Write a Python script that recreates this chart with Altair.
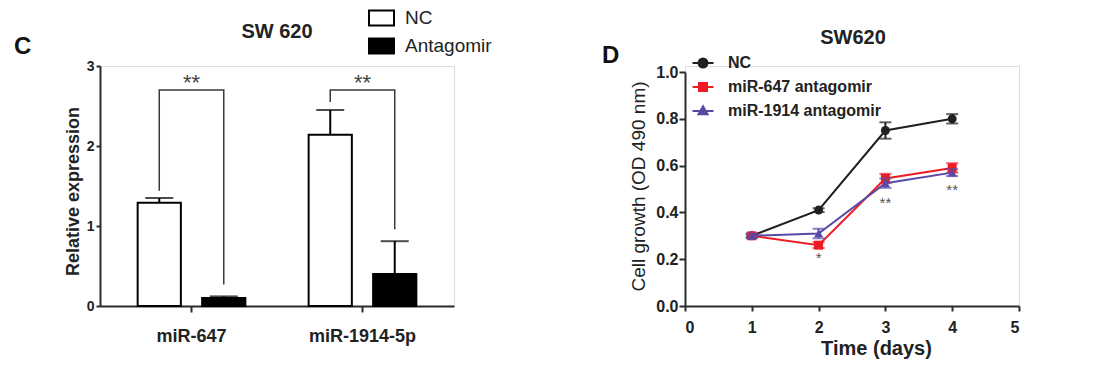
import altair as alt
import pandas as pd

FONT = "Liberation Sans"
AXC = "#2b2b2b"

# ---------------- Panel C data ----------------
categories = ["miR-647", "miR-1914-5p"]
groups = ["NC", "Antagomir"]
nc_expr = [1.29, 2.14]
nc_err = [0.06, 0.31]
ant_expr = [0.10, 0.40]
ant_err = [0.02, 0.41]
bracket_top = [2.70, 2.70]
bracket_left_end = [1.44, 2.55]
bracket_right_end = [0.27, 0.96]
bar_sig_y = [2.79, 2.79]
bar_sig_text = ["**", "**"]
group_fills = ["white", "black"]

# ---------------- Panel D data ----------------
days = [1, 2, 3, 4]
series_names = ["NC", "miR-647 antagomir", "miR-1914 antagomir"]
nc_od = [0.30, 0.41, 0.75, 0.80]
nc_od_err = [0.005, 0.008, 0.035, 0.02]
m647_od = [0.30, 0.26, 0.545, 0.59]
m647_od_err = [0.01, 0.012, 0.02, 0.02]
m1914_od = [0.30, 0.31, 0.525, 0.57]
m1914_od_err = [0.01, 0.02, 0.02, 0.015]
line_sig_days = [2, 3, 4]
line_sig_y = [0.205, 0.44, 0.495]
line_sig_text = ["*", "**", "**"]
series_colors = ["#231f20", "#ed1c24", "#574aa6"]
series_shapes = ["circle", "square", "triangle-up"]
legend_paths = [
    "M-2.1,0H2.1M0.9,0A0.9,0.9,0,1,1,-0.9,0A0.9,0.9,0,1,1,0.9,0Z",
    "M-2.1,0H2.1M-0.8,-0.8H0.8V0.8H-0.8Z",
    "M-2.1,0H2.1M0,-0.95L0.9,0.65H-0.9Z",
]

panel_letters = ["C", "D"]
panel_titles = ["SW 620", "SW620"]

# ---------------- build tables ----------------
bar_rows = []
for i, c in enumerate(categories):
    bar_rows.append({"category": c, "group": groups[0], "value": nc_expr[i], "top": nc_expr[i] + nc_err[i]})
    bar_rows.append({"category": c, "group": groups[1], "value": ant_expr[i], "top": ant_expr[i] + ant_err[i]})
bar_df = pd.DataFrame(bar_rows)

br_rows = []
for i, c in enumerate(categories):
    br_rows += [
        {"category": c, "group": groups[0], "y": bracket_left_end[i], "o": 0},
        {"category": c, "group": groups[0], "y": bracket_top[i], "o": 1},
        {"category": c, "group": groups[1], "y": bracket_top[i], "o": 2},
        {"category": c, "group": groups[1], "y": bracket_right_end[i], "o": 3},
    ]
br_df = pd.DataFrame(br_rows)
sig_df = pd.DataFrame({"category": categories, "y": bar_sig_y, "t": bar_sig_text})

od_rows = []
for name, vals, errs in zip(series_names, [nc_od, m647_od, m1914_od], [nc_od_err, m647_od_err, m1914_od_err]):
    for d, v, e in zip(days, vals, errs):
        od_rows.append({"series": name, "day": d, "od": v, "lo": v - e, "hi": v + e})
od_df = pd.DataFrame(od_rows)
lsig_df = pd.DataFrame({"day": line_sig_days, "y": line_sig_y, "t": line_sig_text})

# ---------------- Panel C ----------------
xC = alt.X(
    "category:N", sort=categories,
    scale=alt.Scale(domain=categories, paddingInner=0.2456, paddingOuter=0.158),
    axis=alt.Axis(title=None, labelAngle=0, tickSize=6, tickWidth=2, tickColor=AXC,
                  domainColor=AXC, domainWidth=2, labelFont=FONT, labelFontSize=18,
                  labelFontWeight="bold", labelColor="#222", labelPadding=15),
)
xoC = alt.XOffset("group:N", sort=groups,
                  scale=alt.Scale(domain=groups, paddingInner=0.33, paddingOuter=0.165))


def yC(field):
    return alt.Y(
        field, scale=alt.Scale(domain=[0, 3], nice=False),
        axis=alt.Axis(values=[0, 1, 2, 3], format="d", grid=False, tickSize=4, tickWidth=2,
                      tickColor=AXC, domainColor=AXC, domainWidth=2, labelFont=FONT,
                      labelFontSize=14, labelFontWeight="bold", labelColor="#222", labelPadding=2,
                      title="Relative expression", titleFont=FONT, titleFontSize=18,
                      titleFontWeight="bold", titleColor="#222", titleX=-27, titleY=125,
                      titleBaseline="middle"),
    )


bars = alt.Chart(bar_df).mark_bar(stroke="black", strokeWidth=2).encode(
    x=xC, xOffset=xoC, y=yC("value:Q"),
    fill=alt.Fill("group:N", scale=alt.Scale(domain=groups, range=group_fills),
                  legend=alt.Legend(title=None, orient="none", legendX=272, legendY=-57.5,
                                    symbolType="M-1.667,-1H1.667V1H-1.667Z", symbolSize=225,
                                    symbolStrokeWidth=2, symbolStrokeColor="black",
                                    labelFont=FONT, labelFontSize=19, labelColor="#222",
                                    labelOffset=14, rowPadding=5, padding=0)),
)
err_rule = alt.Chart(bar_df).mark_rule(color="black", strokeWidth=2).encode(
    x=xC, xOffset=xoC, y=yC("value:Q"), y2="top:Q")
err_cap = alt.Chart(bar_df).mark_tick(color="black", thickness=2, size=28).encode(
    x=xC, xOffset=xoC, y=yC("top:Q"))
brackets = alt.Chart(br_df).mark_line(color="#3a3a3a", strokeWidth=1.5).encode(
    x=xC, xOffset=xoC, y=yC("y:Q"), detail="category:N", order="o:Q")
stars = alt.Chart(sig_df).mark_text(font=FONT, fontSize=22, color="#444", baseline="middle").encode(
    x=xC, y=yC("y:Q"), text="t:N")
letterC = alt.Chart(pd.DataFrame({"t": [panel_letters[0]]})).mark_text(
    font=FONT, fontSize=24, fontWeight="bold", align="left", baseline="alphabetic", color="#111"
).encode(x=alt.value(-86), y=alt.value(-12), text="t:N")
titleC = alt.Chart(pd.DataFrame({"t": [panel_titles[0]]})).mark_text(
    font=FONT, fontSize=20, fontWeight="bold", align="center", baseline="alphabetic", color="#222"
).encode(x=alt.value(177), y=alt.value(-28), text="t:N")

panelC = alt.layer(bars, err_rule, err_cap, brackets, stars, letterC, titleC).properties(
    width=354, height=240)

# ---------------- Panel D ----------------
xD = alt.X("day:Q", scale=alt.Scale(domain=[0, 5], nice=False),
           axis=alt.Axis(values=[0, 1, 2, 3, 4, 5], format="d", grid=False, tickSize=5, tickWidth=2,
                         tickColor=AXC, domainColor=AXC, domainWidth=2, labelFont=FONT,
                         labelFontSize=16, labelFontWeight="bold", labelColor="#222", labelPadding=8,
                         title="Time (days)", titleFont=FONT, titleFontSize=20, titleFontWeight="bold",
                         titleColor="#222", titleX=191, titleY=48, titleBaseline="alphabetic"))


def yD(field):
    return alt.Y(field, scale=alt.Scale(domain=[0, 1], nice=False, range=[240, 6]),
                 axis=alt.Axis(values=[0, 0.2, 0.4, 0.6, 0.8, 1.0], format=".1f", grid=False,
                               tickSize=6, tickWidth=2, tickColor=AXC, domainColor=AXC, domainWidth=2,
                               labelFont=FONT, labelFontSize=16, labelFontWeight="bold",
                               labelColor="#222", labelPadding=1,
                               title="Cell growth (OD 490 nm)", titleFont=FONT, titleFontSize=19,
                               titleFontWeight="normal", titleColor="#222", titleX=-47, titleY=120,
                               titleBaseline="middle"))


baseD = alt.Chart(od_df)
layersD = []
for name, col, shp in zip(series_names, series_colors, series_shapes):
    sub = baseD.transform_filter(alt.datum.series == name)
    layersD.append(sub.mark_line(color=col, strokeWidth=2).encode(x=xD, y=yD("od:Q")))
    layersD.append(sub.mark_rule(color=col, strokeWidth=2).encode(x=xD, y=yD("lo:Q"), y2="hi:Q"))
    layersD.append(sub.mark_tick(color=col, thickness=2, size=12, orient="horizontal").encode(x=xD, y=yD("hi:Q")))
    layersD.append(sub.mark_tick(color=col, thickness=2, size=12, orient="horizontal").encode(x=xD, y=yD("lo:Q")))
    layersD.append(sub.mark_point(shape=shp, filled=True, size=80, color=col, opacity=1).encode(x=xD, y=yD("od:Q")))

legD_kwargs = dict(title=None, orient="none", legendX=10, legendY=-11, symbolSize=100,
                   symbolStrokeWidth=2, symbolFillColor="black", labelFont=FONT, labelFontSize=16,
                   labelFontWeight="bold", labelColor="#222", labelOffset=17, rowPadding=7, padding=0)
legend_layer = baseD.transform_filter("false").mark_point(filled=True, opacity=1).encode(
    x=xD, y=yD("od:Q"),
    fill=alt.Fill("series:N", scale=alt.Scale(domain=series_names, range=series_colors),
                  legend=alt.Legend(**legD_kwargs)),
    stroke=alt.Stroke("series:N", scale=alt.Scale(domain=series_names, range=series_colors),
                      legend=alt.Legend(**legD_kwargs)),
    shape=alt.Shape("series:N", scale=alt.Scale(domain=series_names, range=legend_paths),
                    legend=alt.Legend(**legD_kwargs)),
)
starsD = alt.Chart(lsig_df).mark_text(font=FONT, fontSize=15, color="#555", baseline="middle").encode(
    x=xD, y=yD("y:Q"), text="t:N")
letterD = alt.Chart(pd.DataFrame({"t": [panel_letters[1]]})).mark_text(
    font=FONT, fontSize=24, fontWeight="bold", align="left", baseline="alphabetic", color="#111"
).encode(x=alt.value(-83), y=alt.value(-3), text="t:N")
titleD = alt.Chart(pd.DataFrame({"t": [panel_titles[1]]})).mark_text(
    font=FONT, fontSize=20, fontWeight="bold", align="center", baseline="alphabetic", color="#222"
).encode(x=alt.value(168), y=alt.value(-22), text="t:N")

panelD = alt.layer(*layersD, starsD, legend_layer, letterD, titleD).properties(width=334, height=240)

chart = alt.hconcat(panelC, panelD, spacing=231, bounds="flush").resolve_scale(
    fill="independent", stroke="independent", shape="independent"
).resolve_legend(
    fill="independent", stroke="independent", shape="independent"
).properties(
    padding={"left": 5, "top": 0, "right": 5, "bottom": 5}
).configure_view(stroke=None).configure(font=FONT)

chart.save("out.html", embed_options={"renderer": "svg", "actions": False})
